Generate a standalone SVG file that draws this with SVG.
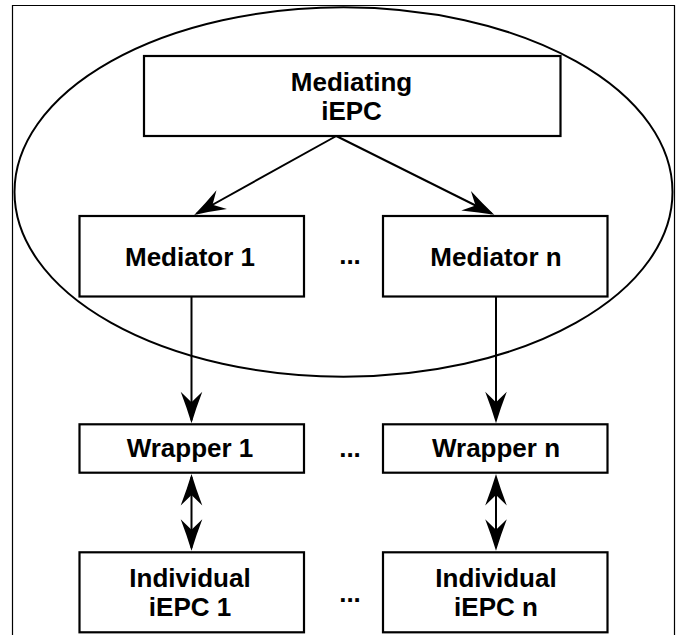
<svg xmlns="http://www.w3.org/2000/svg" width="682" height="635" viewBox="0 0 682 635">
  <style>
    .frame { fill: none; stroke: #000; stroke-width: 1.2; }
    .scope { fill: none; stroke: #000; stroke-width: 2; }
    .box { fill: #fff; stroke: #000; stroke-width: 2.2; }
    .lbl { font-family: "Liberation Sans", Arial, sans-serif; font-weight: bold; font-size: 26px; text-anchor: middle; fill: #000; }
    .edge { fill: none; stroke: #000; stroke-width: 2; }
  </style>
  <defs>
    <!-- barbed arrowhead, tip sits 3px beyond the path end -->
    <marker id="head" markerUnits="userSpaceOnUse" viewBox="-34 -12 37 24" refX="-3" refY="0" markerWidth="37" markerHeight="24" orient="auto-start-reverse">
      <path d="M0,0 Q-15,-4.5 -31.5,-10.8 L-21,0 L-31.5,10.8 Q-15,4.5 0,0 Z" fill="#000"/>
    </marker>
  </defs>

  <path class="frame" d="M12.5,640 V5.5 H674.5 V640"/>
  <ellipse class="scope" cx="343.5" cy="192" rx="329" ry="184.7"/>

  <g id="connectors">
    <path class="edge" d="M336.3,136 L196.8,213.5" marker-end="url(#head)"/>
    <path class="edge" d="M336.3,136 L491.6,213.5" marker-end="url(#head)"/>
    <path class="edge" d="M191.5,296.5 L191.5,420.3" marker-end="url(#head)"/>
    <path class="edge" d="M496,296.5 L496,420.3" marker-end="url(#head)"/>
    <path class="edge" d="M191.5,477 L191.5,547.7" marker-start="url(#head)" marker-end="url(#head)"/>
    <path class="edge" d="M496,477 L496,547.7" marker-start="url(#head)" marker-end="url(#head)"/>
  </g>

  <g id="mediating-iepc">
    <rect class="box" x="144" y="56" width="416.5" height="80"/>
    <text class="lbl" x="351.5" y="90.5">Mediating</text>
    <text class="lbl" x="351.5" y="119.5">iEPC</text>
  </g>

  <g id="mediator-1">
    <rect class="box" x="79.5" y="216" width="224.5" height="80.5"/>
    <text class="lbl" x="190" y="265.5">Mediator 1</text>
  </g>
  <g id="mediator-n">
    <rect class="box" x="383" y="216" width="224.5" height="80.5"/>
    <text class="lbl" x="496" y="265.5">Mediator n</text>
  </g>

  <g id="wrapper-1">
    <rect class="box" x="79.5" y="424.3" width="224.5" height="48.4"/>
    <text class="lbl" x="190" y="457">Wrapper 1</text>
  </g>
  <g id="wrapper-n">
    <rect class="box" x="383" y="424.3" width="224.5" height="48.4"/>
    <text class="lbl" x="496" y="457">Wrapper n</text>
  </g>

  <g id="individual-1">
    <rect class="box" x="79.5" y="552.3" width="224.5" height="80"/>
    <text class="lbl" x="190" y="586.5">Individual</text>
    <text class="lbl" x="190" y="615.5">iEPC 1</text>
  </g>
  <g id="individual-n">
    <rect class="box" x="383" y="552.3" width="224.5" height="80"/>
    <text class="lbl" x="496" y="586.5">Individual</text>
    <text class="lbl" x="496" y="615.5">iEPC n</text>
  </g>

  <g id="ellipses">
    <text class="lbl" x="350" y="263.5">...</text>
    <text class="lbl" x="350" y="456.7">...</text>
    <text class="lbl" x="350" y="601.7">...</text>
  </g>
</svg>
